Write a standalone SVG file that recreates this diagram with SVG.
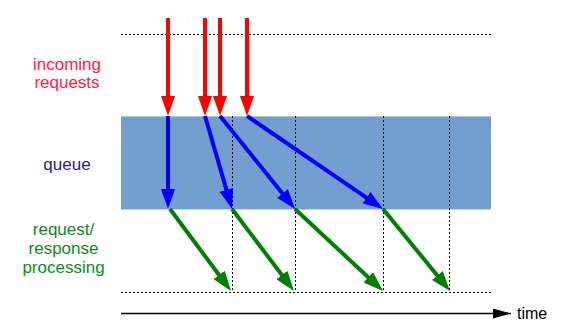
<svg xmlns="http://www.w3.org/2000/svg" width="570" height="336" viewBox="0 0 570 336">
<style>
.lbl{font-family:"Liberation Sans",Arial,sans-serif;font-size:17px;text-anchor:middle}
.dot{stroke:#000;stroke-width:1;stroke-dasharray:2,2;fill:none}
.red{stroke:#ff0000;stroke-width:4;fill:none;marker-end:url(#hr)}
.blue{stroke:#0000ff;stroke-width:4;fill:none;marker-end:url(#hb)}
.green{stroke:#008000;stroke-width:4;fill:none;marker-end:url(#hg)}
</style>
<defs>
<marker id="hr" viewBox="0 0 20 14" refX="10" refY="7" markerWidth="20" markerHeight="14" markerUnits="userSpaceOnUse" orient="auto"><path d="M0,0 L20,7 L0,14 z" fill="#ff0000"/></marker>
<marker id="hb" viewBox="0 0 20 14" refX="10" refY="7" markerWidth="20" markerHeight="14" markerUnits="userSpaceOnUse" orient="auto"><path d="M0,0 L20,7 L0,14 z" fill="#0000ff"/></marker>
<marker id="hg" viewBox="0 0 20 14" refX="10" refY="7" markerWidth="20" markerHeight="14" markerUnits="userSpaceOnUse" orient="auto"><path d="M0,0 L20,7 L0,14 z" fill="#008000"/></marker>
<marker id="hk" viewBox="0 0 18 10" refX="18" refY="5" markerWidth="18" markerHeight="10" markerUnits="userSpaceOnUse" orient="auto"><path d="M0,0 L18,5 L0,10 z" fill="#000"/></marker>
</defs>
<g id="queue">
<rect x="121" y="116" width="370" height="93" fill="#729fcf"/>
<line x1="121" y1="116.5" x2="491" y2="116.5" stroke="#a9c3e3" stroke-width="1"/>
<line x1="121" y1="209.5" x2="491" y2="209.5" stroke="#c5d7ee" stroke-width="1"/>
</g>
<g id="grid">
<line class="dot" x1="121" y1="34.5" x2="491" y2="34.5"/>
<line class="dot" x1="121" y1="292.5" x2="491" y2="292.5"/>
<line class="dot" x1="232.5" y1="116" x2="232.5" y2="292"/>
<line class="dot" x1="295.5" y1="116" x2="295.5" y2="292"/>
<line class="dot" x1="383.5" y1="116" x2="383.5" y2="292"/>
<line class="dot" x1="449.5" y1="116" x2="449.5" y2="292"/>
</g>
<g id="labels">
<text class="lbl" x="67" y="70" fill="#ff2040">incoming</text>
<text class="lbl" x="67" y="88" fill="#ff2040">requests</text>
<text class="lbl" x="67" y="170" fill="#2e1a8c">queue</text>
<text class="lbl" x="63.5" y="235" fill="#12891c">request/</text>
<text class="lbl" x="63.5" y="254" fill="#12891c">response</text>
<text class="lbl" x="63.5" y="273" fill="#12891c">processing</text>
<text x="517" y="319" font-family="Liberation Sans,Arial,sans-serif" font-size="16" fill="#000">time</text>
</g>
<g id="connectors">
<line class="red" x1="168" y1="18" x2="168" y2="106"/>
<line class="red" x1="205" y1="18" x2="205" y2="106"/>
<line class="red" x1="220" y1="18" x2="220" y2="106"/>
<line class="red" x1="247" y1="18" x2="247" y2="106"/>
<line class="blue" x1="168" y1="116" x2="168" y2="199"/>
<line class="blue" x1="205" y1="116" x2="229.21" y2="199.4"/>
<line class="blue" x1="220" y1="116" x2="288.72" y2="201.22"/>
<line class="blue" x1="247" y1="116" x2="374.75" y2="203.36"/>
<line class="green" x1="170" y1="209" x2="225.03" y2="282.98"/>
<line class="green" x1="232" y1="209" x2="287.97" y2="283.02"/>
<line class="green" x1="295" y1="209" x2="375.68" y2="284.18"/>
<line class="green" x1="383" y1="209" x2="443.67" y2="283.26"/>
<line x1="121" y1="313.5" x2="511" y2="313.5" stroke="#000" stroke-width="1.3" marker-end="url(#hk)"/>
</g>
</svg>
